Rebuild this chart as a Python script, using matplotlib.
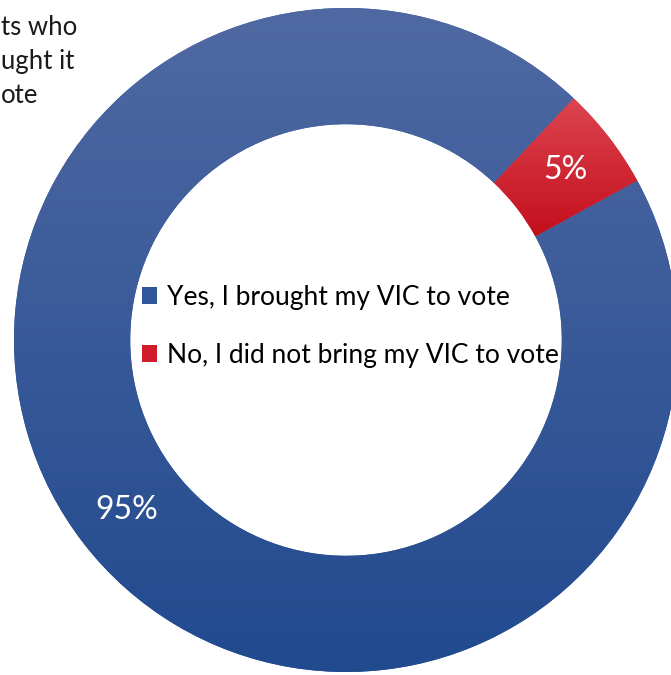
import numpy as np
import matplotlib.pyplot as plt
from matplotlib.patches import Patch
from matplotlib.colors import LinearSegmentedColormap

plt.rcParams['font.family'] = ['Lato', 'DejaVu Sans']

labels = ['Yes, I brought my VIC to vote', 'No, I did not bring my VIC to vote']
shares = [95, 5]
title_lines = ['ts who', 'ught it', 'ote']

# gradient ends (top, bottom) for each slice
blue_top, blue_bottom = '#5069a2', '#214a8f'
red_top, red_bottom = '#dc4550', '#c40e1c'
blue_mid, red_mid = '#2f569a', '#d01c28'

W, H = 671, 675
fig = plt.figure(figsize=(W / 100, H / 100), dpi=100)
ax = fig.add_axes([0, 0, 1, 1])

cx, cy, R = 346, 335, 332
wedges, texts, autotexts = ax.pie(
    shares, radius=R, center=(cx, cy), startangle=28.7, counterclock=False,
    colors=[blue_mid, red_mid], autopct='%d%%', pctdistance=0.835,
    wedgeprops=dict(width=R * 0.35, linewidth=0),
    textprops=dict(color='white', fontsize=23),
)

# vertical gradient fill clipped to each slice
grad = np.linspace(0, 1, 256).reshape(-1, 1)
for w, (c0, c1) in zip(wedges, [(blue_top, blue_bottom), (red_top, red_bottom)]):
    cmap = LinearSegmentedColormap.from_list('g', [c0, c1])
    x0, y0, x1, y1 = w.get_path().get_extents().extents
    im = ax.imshow(grad, cmap=cmap, extent=(x0, x1, y0, y1), origin='upper',
                   aspect='auto', zorder=1.5, interpolation='bicubic')
    im.set_clip_path(w)

ax.set_xlim(0, W)
ax.set_ylim(0, H)
ax.set_aspect('auto')
ax.axis('off')

handles = [Patch(facecolor=blue_mid), Patch(facecolor=red_mid)]
ax.legend(handles, labels, loc='upper left', bbox_to_anchor=(142 / W, 1 - 285 / H),
          frameon=False, fontsize=19, handlelength=0.58, handleheight=0.58,
          handletextpad=0.35, labelspacing=1.25, borderpad=0, borderaxespad=0)

for i, line in enumerate(title_lines):
    ax.text(1, H - 35 - i * 34, line, fontsize=18.5, color='#1a1a1a',
            ha='left', va='baseline')

fig.savefig('out.png', dpi=100)
